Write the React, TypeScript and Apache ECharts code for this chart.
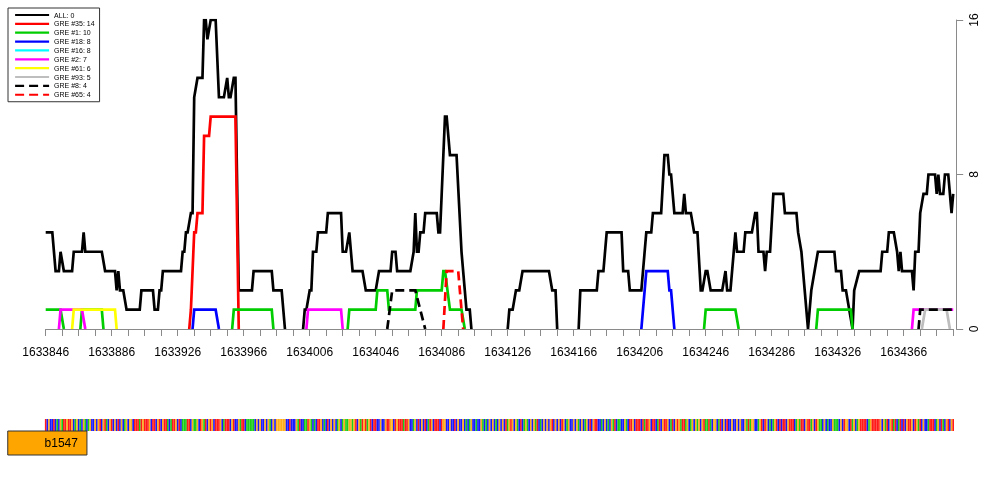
import React, { useEffect, useRef } from "react";
import * as echarts from "echarts";

// genomic window
const START = 1633846;
const END = 1634396;
const TICK_STEP = 10;
const LABEL_STEP = 40;
const Y_TICKS = [0, 8, 16];

// [offset from START, count]; null = gap
type P = [number, number | null];

const ALL: P[] = [
  [0, 5], [4, 5], [6, 3], [8, 3], [9, 4], [11, 3], [16, 3], [17, 4], [22, 4], [23, 5], [24, 4], [34, 4], [36, 3],
  [42, 3], [43, 2], [44, 3], [45, 2], [47, 2], [49, 1], [57, 1], [58, 2], [65, 2], [66, 1], [68, 1], [69, 2], [70, 2],
  [71, 3], [82, 3], [83, 4], [84, 4], [85, 5], [86, 5], [88, 6], [89, 6], [90, 12], [92, 13], [95, 13], [96, 16],
  [97, 16], [98, 15], [100, 16], [103, 16], [105, 12], [108, 12], [110, 13], [111, 12], [112, 12], [114, 13],
  [115, 13], [117, 2], [125, 2], [126, 3], [137, 3], [138, 2], [143, 2], [145, 0], [150, null],
  [156, 0], [157, 1], [158, 1], [160, 2], [161, 2], [162, 4], [164, 4], [165, 5], [170, 5], [171, 6], [179, 6],
  [180, 4], [182, 4], [184, 5], [186, 3], [192, 3], [194, 2], [200, 2], [202, 3], [209, 3], [210, 4], [212, 4],
  [213, 3], [221, 3], [223, 4], [224, 6], [225, 4], [226, 4], [227, 5], [229, 5], [230, 6], [237, 6], [238, 5],
  [239, 5], [240, 7], [242, 11], [243, 11], [245, 9], [249, 9], [252, 4], [254, 2], [255, 1], [257, 1], [258, 0],
  [270, null],
  [280, 0], [281, 1], [283, 1], [285, 2], [287, 2], [289, 3], [305, 3], [307, 2], [309, 2], [310, 0], [316, null],
  [323, 0], [324, 2], [334, 2], [335, 3], [338, 3], [340, 5], [349, 5], [350, 3], [353, 3], [354, 2], [361, 2],
  [364, 5], [367, 5], [368, 6], [373, 6], [375, 9], [377, 9], [378, 8], [379, 8], [381, 6], [386, 6], [387, 7],
  [388, 6], [391, 6], [393, 5], [395, 5], [397, 2], [398, 2], [400, 3], [401, 3], [403, 2], [410, 2], [412, 3],
  [413, 2], [415, 2], [418, 5], [419, 4], [423, 4], [424, 5], [428, 5], [430, 6], [431, 6], [432, 4], [435, 4],
  [436, 3], [437, 4], [439, 4], [441, 7], [447, 7], [448, 6], [455, 6], [456, 5], [458, 4], [459, 3], [460, 2],
  [462, 0], [464, 2], [466, 3], [468, 4], [478, 4], [479, 3], [482, 3], [483, 2], [485, 2], [487, 1], [489, 0],
  [490, 2], [493, 3], [506, 3], [507, 4], [510, 4], [511, 5], [514, 5], [516, 4], [517, 3], [518, 4], [519, 3],
  [525, 3], [526, 2], [527, 4], [529, 4], [530, 6], [532, 7], [534, 7], [535, 8], [539, 8], [540, 7], [541, 8],
  [542, 7], [544, 7], [545, 8], [547, 8], [549, 6], [550, 7],
];
const GRE35: P[] = [[87, 0], [88, 1], [90, 5], [91, 5], [92, 6], [95, 6], [96, 10], [99, 10], [100, 11], [115, 11], [117, 0]];
const GRE1: P[] = [
  [0, 1], [9, 1], [11, 0], [15, null],
  [21, 0], [22, 1], [34, 1], [35, 0], [60, null],
  [113, 0], [114, 1], [137, 1], [138, 0], [160, null],
  [183, 0], [184, 1], [200, 1], [201, 2], [207, 2], [208, 1], [224, 1], [225, 2], [240, 2], [241, 3], [242, 3],
  [245, 1], [252, 1], [254, 0], [300, null],
  [399, 0], [400, 1], [418, 1], [420, 0], [440, null],
  [467, 0], [468, 1], [488, 1], [489, 0],
];
const GRE18: P[] = [[89, 0], [90, 1], [103, 1], [105, 0], [200, null], [361, 0], [364, 3], [377, 3], [378, 2], [379, 2], [381, 0]];
const GRE16: P[] = [];
const GRE2: P[] = [[8, 0], [9, 1], [22, 1], [24, 0], [100, null], [158, 0], [159, 1], [179, 1], [180, 0], [300, null], [525, 0], [526, 1], [550, 1]];
const GRE61: P[] = [[16, 0], [17, 1], [42, 1], [43, 0]];
const GRE93: P[] = [[531, 0], [533, 1], [546, 1], [548, 0]];
const GRE8: P[] = [[207, 0], [210, 2], [224, 2], [230, 0], [300, null], [529, 0], [530, 1], [550, 1]];
const GRE65: P[] = [[241, 0], [243, 3], [250, 3], [253, 0]];

const SERIES_NAMES = ["ALL: 0", "GRE #35: 14", "GRE #1: 10", "GRE #18: 8", "GRE #16: 8", "GRE #2: 7", "GRE #61: 6", "GRE #93: 5", "GRE #8: 4", "GRE #65: 4"];
const SERIES_DATA = [ALL, GRE35, GRE1, GRE18, GRE16, GRE2, GRE61, GRE93, GRE8, GRE65];
const SERIES_COLORS = ["#000000", "#ff0000", "#00cd00", "#0000ff", "#00ffff", "#ff00ff", "#ffff00", "#bebebe", "#000000", "#ff0000"];
const SERIES_DASHED = [false, false, false, false, false, false, false, false, true, true];

// genomic sequence shown under the plot
const SEQUENCE = [
  "TCGCCTCACG", "ATTGTTGCAG", "CACGACAGCC", "GCGTCGTACG", "TCGCTCGCAG", "CGGCTTTATG", "TTTGCTTCGT",
  "CGTTACATTG", "CTCAAATTCG", "AAGCTGATCG", "TGCTTTGCAT", "TTCGTCCGAT", "TCAAAAACGC", "GCCGCGACGC",
  "GGGGGGCCTC", "CCGATCCAAT", "GACACTTGCA", "CTCGCGCAGC", "AGAAGGAGTC", "GATGTAGTCT", "TCCGCCGTTG",
  "GCTGTTTATT", "GCCAGCTCGC", "TCATGCTTTC", "TGGCCGCCTC", "GCCGCACAGC", "CACCGACACG", "CGCACG",
  "CGCTAGTGCG", "ACTCAGACGC", "GATCACGCGC", "GTCGCGCTGC", "AGCCGCGACG", "CAGCTCGTTC", "CACGCACGAT",
  "CAACCGACTT", "GCTTTCTATT", "GCTTCATCGT", "TGCATCGTGA", "TTAGCAGCGA", "GCGTAATACG", "GCATCGCTCC",
  "GCCGCGCCGA", "TAGGCCAGTC", "TGCACAGTCT", "CTTCGTTTCA", "GATTCGTTAG", "CTGAACGCAC", "CGAAACGCTG",
  "GCTAGCAGTT", "TTCAGTTTTT", "GCGATCGTAT", "CATCTCGTTG", "CTGATCGCCA", "TTTCAGCTAC", "GTCGTCGAC",
].join("");
const BASE_COLORS: Record<string, string> = { A: "#00c800", C: "#0000ff", G: "#ffa500", T: "#ff0000" };

// gene annotation: [start, end, name]
const GENES: [number, number, string][] = [[1633823, 1633871, "b1547"]];

const FONT = "Liberation Sans";

export default function App() {
  const ref = useRef<HTMLDivElement>(null);
  useEffect(() => {
    if (!ref.current) return;
    const chart = echarts.init(ref.current, null, { renderer: "svg" });

    const lineSeries = SERIES_NAMES.map((name, i) => ({
      name,
      type: "line",
      xAxisIndex: 0,
      yAxisIndex: 0,
      data: SERIES_DATA[i].map(([o, v]) => [START + o, v === null ? "-" : v]),
      showSymbol: false,
      symbol: "none",
      connectNulls: false,
      silent: true,
      z: 2 + i,
      lineStyle: {
        color: SERIES_COLORS[i],
        width: 2.7,
        type: SERIES_DASHED[i] ? [9, 5] : "solid",
        cap: "butt",
        join: "miter",
      },
      itemStyle: { color: SERIES_COLORS[i] },
    }));

    const seqData = SEQUENCE.split("")
      .map((b, i) => [START + i, b])
      .filter((d) => (d[0] as number) <= END);

    const option: any = {
      animation: false,
      textStyle: { fontFamily: FONT },
      grid: [
        { left: 45.7, right: 46.8, top: 20, bottom: 171 },
        { left: 45.7, right: 46.8, top: 419, height: 36 },
      ],
      xAxis: [
        {
          type: "value",
          gridIndex: 0,
          min: START,
          max: END,
          interval: TICK_STEP,
          offset: 7,
          axisLine: { show: true, lineStyle: { color: "#8a8a8a", width: 1 } },
          axisTick: { show: true, length: 7, lineStyle: { color: "#8a8a8a", width: 1 } },
          axisLabel: {
            show: true,
            margin: 10,
            fontSize: 12,
            color: "#000",
            fontFamily: FONT,
            showMinLabel: true,
            showMaxLabel: true,
            hideOverlap: false,
            formatter: (v: number) => ((Math.round(v) - START) % LABEL_STEP === 0 ? String(Math.round(v)) : ""),
          },
          splitLine: { show: false },
        },
        { type: "value", gridIndex: 1, min: START, max: END, show: false },
      ],
      yAxis: [
        {
          type: "value",
          gridIndex: 0,
          position: "right",
          min: Y_TICKS[0],
          max: Y_TICKS[Y_TICKS.length - 1],
          interval: Y_TICKS[1] - Y_TICKS[0],
          offset: 3,
          axisLine: { show: true, lineStyle: { color: "#8a8a8a", width: 1 } },
          axisTick: { show: true, length: 7, lineStyle: { color: "#8a8a8a", width: 1 } },
          axisLabel: { show: true, rotate: 90, margin: 12, fontSize: 12, color: "#000", fontFamily: FONT },
          splitLine: { show: false },
        },
        { type: "value", gridIndex: 1, min: 0, max: 3, inverse: true, show: false },
      ],
      legend: {
        orient: "vertical",
        left: 8,
        top: 8,
        padding: [3, 5, 3, 6],
        itemWidth: 34,
        itemHeight: 8,
        itemGap: 0.86,
        borderColor: "#333",
        borderWidth: 1,
        backgroundColor: "#fff",
        selectedMode: false,
        itemStyle: { opacity: 0, borderWidth: 0 },
        lineStyle: { width: 2.2 },
        textStyle: { fontSize: 7, color: "#000", lineHeight: 8, fontFamily: FONT },
        data: SERIES_NAMES,
      },
      series: [
        ...lineSeries,
        {
          type: "custom",
          name: "sequence",
          xAxisIndex: 1,
          yAxisIndex: 1,
          silent: true,
          clip: false,
          data: seqData,
          encode: { x: 0 },
          renderItem: (params: any, api: any) => {
            const pos = api.value(0);
            const base = SEQUENCE[pos - START];
            const x0 = api.coord([pos - 0.5, 0])[0];
            const x1 = api.coord([pos + 0.5, 0])[0];
            const y0 = api.coord([START, 0])[1];
            const y1 = api.coord([START, 1])[1];
            return {
              type: "rect",
              shape: { x: x0, y: y0, width: x1 - x0, height: y1 - y0 },
              style: { fill: BASE_COLORS[base] || "#999", opacity: 0.9 },
            };
          },
        },
        {
          type: "custom",
          name: "genes",
          xAxisIndex: 1,
          yAxisIndex: 1,
          silent: true,
          clip: false,
          data: GENES.map((g) => [g[0], g[1]]),
          encode: { x: [0, 1] },
          renderItem: (params: any, api: any) => {
            const g = GENES[params.dataIndex];
            const p0 = api.coord([api.value(0), 1]);
            const p1 = api.coord([api.value(1), 3]);
            return {
              type: "group",
              children: [
                {
                  type: "rect",
                  shape: { x: p0[0], y: p0[1], width: p1[0] - p0[0], height: p1[1] - p0[1] },
                  style: { fill: "#ffa500", stroke: "#333", lineWidth: 1 },
                },
                {
                  type: "text",
                  style: {
                    text: g[2],
                    x: p1[0] - 9,
                    y: (p0[1] + p1[1]) / 2,
                    align: "right",
                    verticalAlign: "middle",
                    fontSize: 12,
                    fontFamily: FONT,
                    fill: "#000",
                  },
                },
              ],
            };
          },
        },
      ],
    };
    chart.setOption(option);
    return () => chart.dispose();
  }, []);
  return <div ref={ref} style={{ position: "fixed", left: 0, top: 0, width: 1000, height: 500 }} />;
}
